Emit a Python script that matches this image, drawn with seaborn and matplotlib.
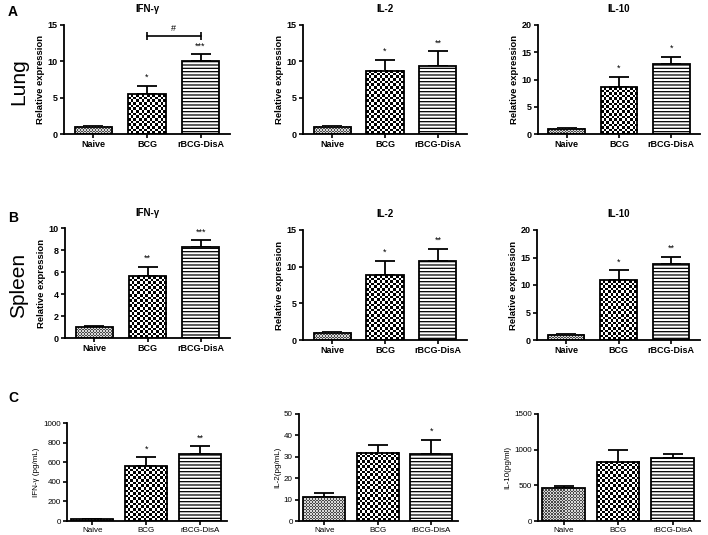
import numpy as np
import pandas as pd
import matplotlib
matplotlib.use('Agg')
import matplotlib.pyplot as plt
from matplotlib.colors import ListedColormap
import seaborn as sns

# --- data ---
groups = ['Naive', 'BCG', 'rBCG-DisA']

lung_ifng = [1.0, 5.5, 10.1]
lung_ifng_err = [0.05, 1.1, 0.9]
lung_il2 = [1.0, 8.7, 9.4]
lung_il2_err = [0.05, 1.5, 2.0]
lung_il10 = [1.0, 8.6, 12.8]
lung_il10_err = [0.05, 1.9, 1.4]

spleen_ifng = [1.0, 5.6, 8.3]
spleen_ifng_err = [0.05, 0.9, 0.6]
spleen_il2 = [1.0, 8.8, 10.8]
spleen_il2_err = [0.05, 2.0, 1.6]
spleen_il10 = [1.0, 10.9, 13.9]
spleen_il10_err = [0.05, 1.8, 1.2]

serum_ifng = [20, 560, 685]
serum_ifng_err = [5, 95, 80]
serum_il2 = [11, 32, 31.5]
serum_il2_err = [2, 3.5, 6.5]
serum_il10 = [460, 830, 885]
serum_il10_err = [30, 170, 55]

lung_ifng_stars = ['', '*', '***']
lung_il2_stars = ['', '*', '**']
lung_il10_stars = ['', '*', '*']
spleen_ifng_stars = ['', '**', '***']
spleen_il2_stars = ['', '*', '**']
spleen_il10_stars = ['', '*', '**']
serum_ifng_stars = ['', '*', '**']
serum_il2_stars = ['', '', '*']
serum_il10_stars = ['', '', '']

sns.set_style('ticks')
plt.rcParams['font.family'] = ['Liberation Sans', 'DejaVu Sans']
for key in ['text.color', 'axes.labelcolor', 'xtick.color', 'ytick.color', 'axes.edgecolor']:
    plt.rcParams[key] = 'black'
plt.rcParams['hatch.linewidth'] = 0.9
plt.rcParams['hatch.color'] = '#333333'

# fill style per group: (kind, cell size px, dark colour, light colour)
fills = [('checker', 1.5, '#4a4a4a', '#d8d8d8'),
         ('checker', 2.6, 'black', 'white'),
         ('lines', None, None, None)]


def checker_fill(ax, patch, cell_px, dark, light):
    x0, y0 = patch.get_x(), patch.get_y()
    w, h = patch.get_width(), patch.get_height()
    p0 = ax.transData.transform((x0, y0))
    p1 = ax.transData.transform((x0 + w, y0 + h))
    nx = max(1, int(round(abs(p1[0] - p0[0]) / cell_px)))
    ny = max(1, int(round(abs(p1[1] - p0[1]) / cell_px)))
    arr = np.add.outer(np.arange(ny), np.arange(nx)) % 2
    ax.imshow(arr, cmap=ListedColormap([light, dark]), extent=(x0, x0 + w, y0, y0 + h),
              aspect='auto', interpolation='nearest', clip_path=patch, zorder=1.5)


def draw_panel(ax, means, errs, stars, ymax, ystep, title, ylabel, bold=True,
               width=0.7, xlim=(-0.55, 2.55)):
    df = pd.DataFrame({'group': groups, 'value': means})
    sns.barplot(data=df, x='group', y='value', ax=ax, color='white',
                edgecolor='black', linewidth=1.3, width=width, errorbar=None)
    ax.set_xlim(*xlim)
    ax.set_ylim(0, ymax)
    for patch, (kind, cell, dark, light) in zip(list(ax.patches), fills):
        patch.set_zorder(2)
        if kind == 'checker':
            patch.set_facecolor('none')
            checker_fill(ax, patch, cell, dark, light)
        else:
            patch.set_facecolor('white')
            patch.set_hatch('-----')
    ax.errorbar(range(len(groups)), means, yerr=[[0] * len(errs), errs], fmt='none',
                ecolor='black', elinewidth=1.3, capsize=7, capthick=1.3, zorder=1)
    for i, (m, e, s) in enumerate(zip(means, errs, stars)):
        if s:
            ax.text(i, m + e + ymax * 0.035, s, ha='center', va='bottom', fontsize=6.5)
    ax.set_xlim(*xlim)
    ax.set_ylim(0, ymax)
    ax.set_yticks([ystep * k for k in range(int(round(ymax / ystep)) + 1)])
    ax.set_xlabel('')
    weight = 'bold' if bold else 'normal'
    ax.set_ylabel(ylabel, fontsize=6.8 if bold else 5.8, fontweight=weight, labelpad=2)
    if title:
        ax.set_title(title, fontsize=7, fontweight='bold', pad=9)
    ax.tick_params(axis='both', labelsize=6.5 if bold else 5.8, length=3, width=1.2, pad=1.5)
    for lab in ax.get_xticklabels() + ax.get_yticklabels():
        lab.set_fontweight(weight)
    sns.despine(ax=ax)
    for sp in ['left', 'bottom']:
        ax.spines[sp].set_linewidth(1.3)


fig = plt.figure(figsize=(7.08, 5.35), dpi=100)
W, H = 708, 535


def add_ax(left, right, top, bottom):
    return fig.add_axes([left / W, 1 - bottom / H, (right - left) / W, (bottom - top) / H])


# Row A - Lung
ax = add_ax(64, 230, 25, 134)
draw_panel(ax, lung_ifng, lung_ifng_err, lung_ifng_stars, 15, 5, 'IFN-γ', 'Relative expression')
bracket_y = 13.5
ax.plot([1, 2], [bracket_y, bracket_y], color='black', lw=1.2, marker='|', ms=6, mew=1.2)
ax.text(1.5, bracket_y + 0.4, '#', ha='center', va='bottom', fontsize=6.5)
ax = add_ax(303, 467, 25, 134)
draw_panel(ax, lung_il2, lung_il2_err, lung_il2_stars, 15, 5, 'IL-2', 'Relative expression')
ax = add_ax(538, 700, 25, 134)
draw_panel(ax, lung_il10, lung_il10_err, lung_il10_stars, 20, 5, 'IL-10', 'Relative expression')

# Row B - Spleen
ax = add_ax(65, 230, 228, 338)
draw_panel(ax, spleen_ifng, spleen_ifng_err, spleen_ifng_stars, 10, 2, 'IFN-γ', 'Relative expression')
ax = add_ax(303, 467, 230, 340)
draw_panel(ax, spleen_il2, spleen_il2_err, spleen_il2_stars, 15, 5, 'IL-2', 'Relative expression')
ax = add_ax(537, 700, 230, 340)
draw_panel(ax, spleen_il10, spleen_il10_err, spleen_il10_stars, 20, 5, 'IL-10', 'Relative expression')

# Row C - serum protein
c_kw = dict(bold=False, width=0.78, xlim=(-0.47, 2.5))
ax = add_ax(67, 227, 423, 521)
draw_panel(ax, serum_ifng, serum_ifng_err, serum_ifng_stars, 1000, 200, None, 'IFN-γ (pg/mL)', **c_kw)
ax = add_ax(299, 458, 414, 521)
draw_panel(ax, serum_il2, serum_il2_err, serum_il2_stars, 50, 10, None, 'IL-2(pg/mL)', **c_kw)
ax = add_ax(538, 700, 414, 521)
draw_panel(ax, serum_il10, serum_il10_err, serum_il10_stars, 1500, 500, None, 'IL-10(pg/ml)', **c_kw)

# row / panel labels
fig.text(8 / W, 1 - 12 / H, 'A', fontsize=10, fontweight='bold', va='center')
fig.text(8 / W, 1 - 218 / H, 'B', fontsize=10, fontweight='bold', va='center')
fig.text(8 / W, 1 - 398 / H, 'C', fontsize=10, fontweight='bold', va='center')
fig.text(19 / W, 1 - 82 / H, 'Lung', fontsize=15, rotation=90, ha='center', va='center')
fig.text(19 / W, 1 - 285 / H, 'Spleen', fontsize=15, rotation=90, ha='center', va='center')

fig.savefig('out.png', dpi=100)
